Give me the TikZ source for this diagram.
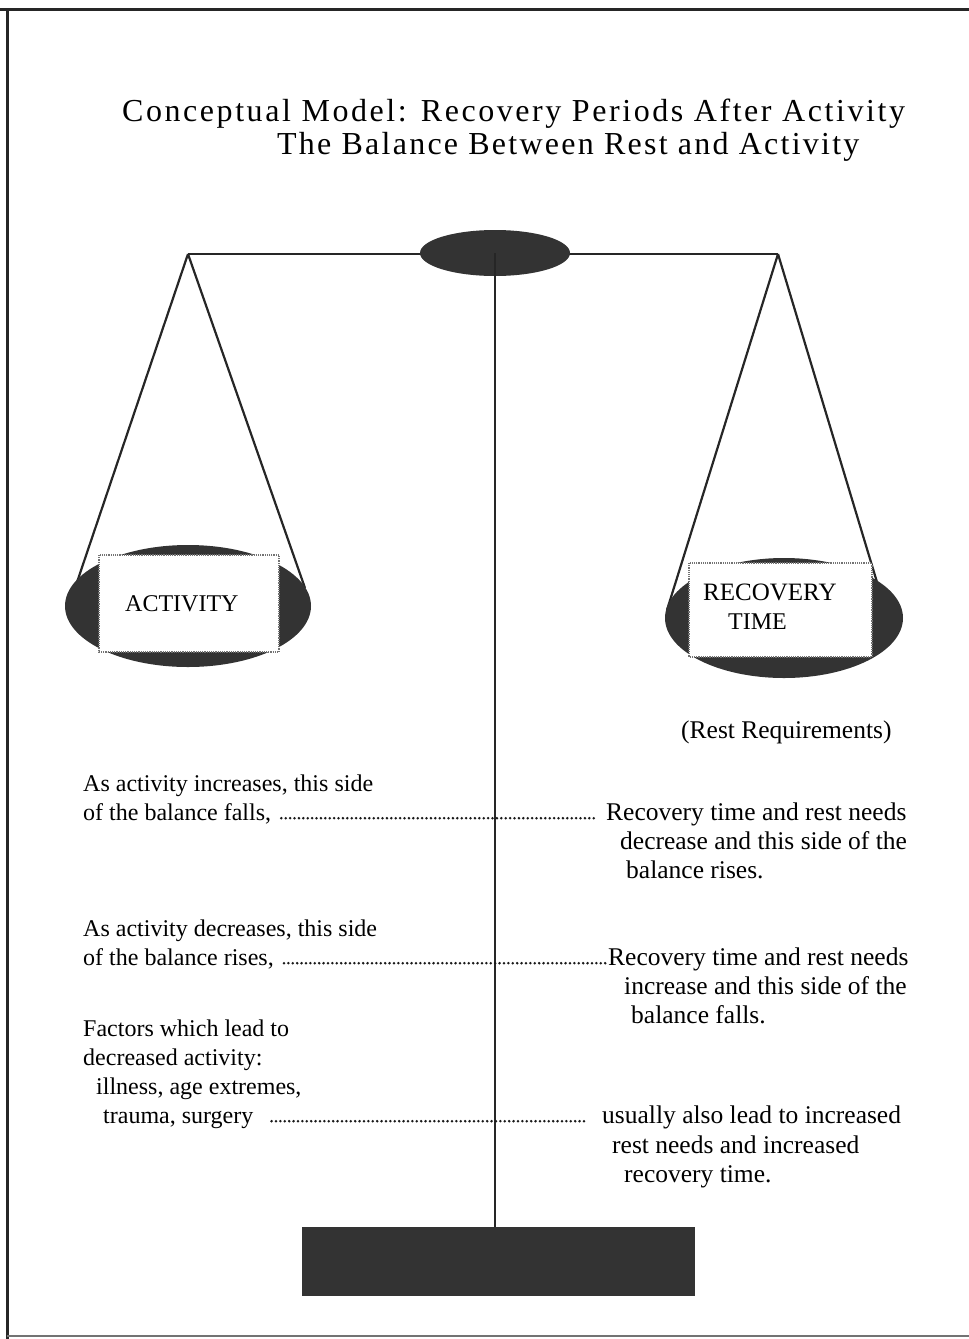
\documentclass[tikz,border=0pt]{standalone}
\usepackage{fontspec}
\setmainfont{Liberation Serif}
\newfontfamily\titlefont[LetterSpace=8]{Liberation Serif}
\newfontfamily\titlefontb[LetterSpace=7]{Liberation Serif}
\usetikzlibrary{shapes.geometric}
\begin{document}
\begin{tikzpicture}[x=1pt,y=-1pt,
  frameline/.style={line width=3pt,black!85},
  scaleline/.style={line width=2.2pt,black!85},
  dark/.style={fill=black!80,draw=none},
  labelbox/.style={fill=white,draw=black!55,line width=2.5pt,dash pattern=on 1.2pt off 1pt},
  bodyl/.style={anchor=base west,inner sep=0pt,font=\fontsize{24}{29}\selectfont},
  bodyr/.style={anchor=base west,inner sep=0pt,font=\fontsize{25.5}{29}\selectfont},
  boxtext/.style={anchor=base west,inner sep=0pt,font=\fontsize{24}{29}\selectfont},
  titletext/.style={anchor=base west,inner sep=0pt,font=\titlefont\fontsize{32}{34}\selectfont},
  dotline/.style={line width=2.8pt,line cap=round,dash pattern=on 0pt off 4.4pt,black!90}]
\useasboundingbox (0,0) rectangle (969,1339);
% frame
\draw[frameline] (0,9) -- (969,9);
\draw[frameline] (7,9) -- (7,1339);
\draw[line width=1.5pt,black!55] (7,1336) -- (969,1336);
% title
\node[titletext] (title1) at (122,121) {Conceptual Model: Recovery Periods After Activity};
\node[titletext,font=\titlefontb\fontsize{32}{34}\selectfont] (title2) at (277,154) {The Balance Between Rest and Activity};
% scale
\coordinate (apexL) at (188,254);
\coordinate (apexR) at (778,254);
\draw[scaleline] (apexL) -- (apexR);
\node[dark,ellipse,minimum width=150pt,minimum height=46pt] (pivot) at (495,253) {};
\node[dark,minimum width=393pt,minimum height=69pt,anchor=north west] (base) at (302,1227) {};
\draw[scaleline] (pivot.center) -- (pivot.center |- base.north);
% left pan
\draw[scaleline] (apexL) -- (73,594);
\draw[scaleline] (apexL) -- (305,588);
\node[dark,ellipse,minimum width=246pt,minimum height=122pt] (panL) at (188,606) {};
\draw[labelbox] (99,555) rectangle (279,652);
\node[boxtext] (act) at (125,611) {ACTIVITY};
% right pan
\draw[scaleline] (apexR) -- (667,610);
\draw[scaleline] (apexR) -- (883,602);
\node[dark,ellipse,minimum width=238pt,minimum height=120pt] (panR) at (784,618) {};
\draw[labelbox] (689,563) rectangle (872,657);
\node[boxtext,font=\fontsize{25}{29}\selectfont] (rec) at (703,600) {RECOVERY};
\node[boxtext] (time) at (728,629) {TIME};
\node[bodyr] (restreq) at (681,738) {(Rest Requirements)};
% block 1
\node[bodyl] (l1a) at (83,791) {As activity increases, this side};
\node[bodyl] (l1b) at (83,820) {of the balance falls,};
\node[bodyr] (r1a) at (606,820) {Recovery time and rest needs};
\node[bodyr] (r1b) at (620,849) {decrease and this side of the};
\node[bodyr] (r1c) at (626,878) {balance rises.};
\draw[dotline] ([xshift=10pt,yshift=1.8pt]l1b.base east) -- ([xshift=-10pt,yshift=1.8pt]r1a.base west);
% block 2
\node[bodyl] (l2a) at (83,936) {As activity decreases, this side};
\node[bodyl] (l2b) at (83,965) {of the balance rises,};
\node[bodyr] (r2a) at (608,965) {Recovery time and rest needs};
\node[bodyr] (r2b) at (624,994) {increase and this side of the};
\node[bodyr] (r2c) at (631,1023) {balance falls.};
\draw[dotline] ([xshift=10pt,yshift=1.8pt]l2b.base east) -- ([xshift=-2pt,yshift=1.8pt]r2a.base west);
% block 3
\node[bodyl] (l3a) at (83,1036) {Factors which lead to};
\node[bodyl] (l3b) at (83,1065) {decreased activity:};
\node[bodyl] (l3c) at (96,1094) {illness, age extremes,};
\node[bodyl] (l3d) at (103,1123) {trauma, surgery};
\node[bodyr] (r3a) at (602,1123) {usually also lead to increased};
\node[bodyr] (r3b) at (612,1153) {rest needs and increased};
\node[bodyr] (r3c) at (624,1182) {recovery time.};
\draw[dotline] ([xshift=18pt,yshift=1.8pt]l3d.base east) -- ([xshift=-18pt,yshift=1.8pt]r3a.base west);
\end{tikzpicture}
\end{document}
